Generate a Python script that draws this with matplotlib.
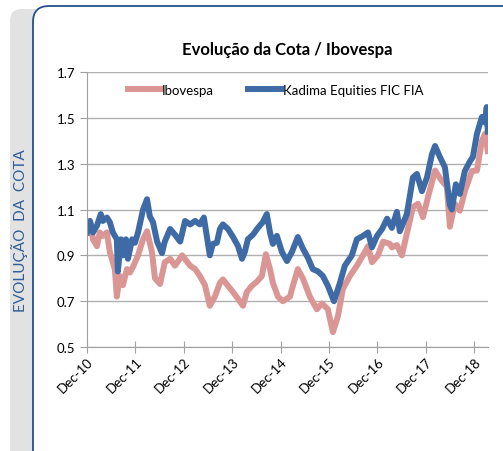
import matplotlib
matplotlib.use('Agg')
import matplotlib.pyplot as plt
import matplotlib.dates as mdates
from matplotlib.patches import FancyBboxPatch
import pandas as pd

plt.rcParams['font.family'] = ['Lato', 'DejaVu Sans']

# Kadima Equities FIC FIA (cota normalizada)
kadima_dates = ['2010-12-01', '2010-12-23', '2011-01-15', '2011-02-14', '2011-03-15',
                '2011-03-30', '2011-04-30', '2011-05-22', '2011-06-14', '2011-07-14',
                '2011-07-22', '2011-08-14', '2011-08-29', '2011-09-21', '2011-10-06',
                '2011-11-06', '2011-11-28', '2011-12-21', '2012-01-28', '2012-02-27',
                '2012-03-19', '2012-04-12', '2012-05-13', '2012-06-19', '2012-07-10',
                '2012-08-19', '2012-09-25', '2012-11-03', '2012-12-10', '2013-01-17',
                '2013-02-24', '2013-04-01', '2013-05-01', '2013-05-23', '2013-06-15',
                '2013-07-08', '2013-08-07', '2013-08-30', '2013-09-22', '2013-10-30',
                '2013-12-07', '2014-01-14', '2014-02-13', '2014-03-06', '2014-03-29',
                '2014-05-06', '2014-06-13', '2014-07-20', '2014-08-19', '2014-09-12',
                '2014-10-04', '2014-11-03', '2014-12-11', '2015-01-18', '2015-02-25',
                '2015-04-10', '2015-05-18', '2015-06-25', '2015-08-01', '2015-09-09',
                '2015-10-16', '2015-11-23', '2016-01-08', '2016-02-22', '2016-03-30',
                '2016-05-22', '2016-06-29', '2016-08-14', '2016-09-21', '2016-10-21',
                '2016-11-28', '2017-01-05', '2017-02-12', '2017-03-20', '2017-04-27',
                '2017-05-19', '2017-07-11', '2017-08-26', '2017-09-25', '2017-11-02',
                '2017-12-10', '2018-01-17', '2018-02-09', '2018-03-17', '2018-04-24',
                '2018-06-01', '2018-06-16', '2018-07-16', '2018-08-15', '2018-09-22',
                '2018-10-30', '2018-11-22', '2018-12-22', '2019-01-29', '2019-02-21',
                '2019-03-06', '2019-03-14']
kadima = [1.00, 1.05, 1.00, 1.03, 1.08, 1.05, 1.065, 1.045, 1.00, 0.97,
          0.83, 0.97, 0.90, 0.97, 0.885, 0.97, 0.955, 1.00, 1.10, 1.145,
          1.07, 1.045, 0.96, 0.91, 0.96, 1.015, 0.99, 0.96, 1.05, 1.035,
          1.05, 1.035, 1.065, 0.985, 0.90, 0.95, 0.955, 1.015, 1.035, 1.015,
          0.98, 0.94, 0.885, 0.915, 0.97, 0.99, 1.02, 1.045, 1.08, 1.00,
          0.95, 0.985, 0.915, 0.875, 0.915, 0.98, 0.93, 0.89, 0.84, 0.83,
          0.81, 0.767, 0.70, 0.78, 0.855, 0.90, 0.97, 0.985, 1.00, 0.935,
          0.985, 1.015, 1.06, 1.02, 1.09, 1.005, 1.08, 1.24, 1.255, 1.18,
          1.24, 1.342, 1.377, 1.33, 1.285, 1.12, 1.10, 1.21, 1.168, 1.268,
          1.31, 1.33, 1.43, 1.504, 1.48, 1.547, 1.44]

# Ibovespa (normalizado)
ibov_dates = ['2010-12-01', '2010-12-23', '2011-01-15', '2011-02-14', '2011-03-07',
              '2011-03-30', '2011-04-30', '2011-05-22', '2011-06-29', '2011-07-14',
              '2011-08-06', '2011-08-29', '2011-09-28', '2011-10-21', '2011-11-13',
              '2011-12-21', '2012-01-28', '2012-02-27', '2012-04-04', '2012-04-27',
              '2012-06-04', '2012-07-10', '2012-08-19', '2012-09-25', '2012-11-18',
              '2013-01-17', '2013-02-24', '2013-04-01', '2013-05-09', '2013-06-15',
              '2013-07-23', '2013-08-30', '2013-09-22', '2013-10-30', '2013-12-07',
              '2014-01-14', '2014-02-20', '2014-03-21', '2014-04-28', '2014-06-05',
              '2014-07-13', '2014-08-12', '2014-09-12', '2014-10-04', '2014-11-11',
              '2014-12-18', '2015-02-10', '2015-02-25', '2015-04-10', '2015-05-18',
              '2015-07-10', '2015-09-01', '2015-10-09', '2015-11-23', '2015-12-31',
              '2016-02-07', '2016-03-15', '2016-05-07', '2016-06-29', '2016-08-14',
              '2016-09-21', '2016-10-21', '2016-12-05', '2017-01-13', '2017-03-05',
              '2017-03-20', '2017-04-27', '2017-06-04', '2017-07-11', '2017-08-26',
              '2017-10-03', '2017-11-10', '2017-12-18', '2018-02-09', '2018-04-01',
              '2018-05-09', '2018-06-01', '2018-07-08', '2018-08-15', '2018-09-22',
              '2018-11-14', '2018-12-22', '2019-01-29', '2019-02-21', '2019-03-14']
ibov = [1.00, 1.05, 0.97, 0.94, 1.00, 0.985, 1.00, 0.915, 0.84, 0.72,
        0.81, 0.77, 0.84, 0.825, 0.85, 0.90, 0.97, 1.005, 0.915, 0.80,
        0.775, 0.87, 0.885, 0.855, 0.90, 0.855, 0.84, 0.81, 0.77, 0.68,
        0.72, 0.78, 0.795, 0.767, 0.74, 0.71, 0.68, 0.74, 0.767, 0.785,
        0.81, 0.905, 0.84, 0.78, 0.72, 0.70, 0.72, 0.753, 0.84, 0.80,
        0.72, 0.665, 0.69, 0.665, 0.565, 0.635, 0.753, 0.81, 0.855, 0.90,
        0.94, 0.87, 0.90, 0.96, 0.95, 0.935, 0.945, 0.90, 0.995, 1.11,
        1.125, 1.067, 1.155, 1.27, 1.225, 1.20, 1.025, 1.125, 1.095, 1.18,
        1.268, 1.27, 1.40, 1.43, 1.355]

tick_dates = ['2010-12-01', '2011-12-01', '2012-12-01', '2013-12-01', '2014-12-01',
              '2015-12-01', '2016-12-01', '2017-12-01', '2018-12-01']
y_ticks = [0.5, 0.7, 0.9, 1.1, 1.3, 1.5, 1.7]

fig = plt.figure(figsize=(5.03, 4.52), dpi=100)

# gray band + rounded panel (behind the axes)
band = FancyBboxPatch((0.10, -0.3), 0.6, 4.72, boxstyle='round,pad=0,rounding_size=0.12',
                      transform=fig.dpi_scale_trans, facecolor='#e2e2e2', edgecolor='none',
                      zorder=-2)
fig.patches.append(band)
panel = FancyBboxPatch((0.33, -0.3), 5.2, 4.75, boxstyle='round,pad=0,rounding_size=0.16',
                       transform=fig.dpi_scale_trans, facecolor='white', edgecolor='#24508a',
                       lw=1.3, zorder=-1)
fig.patches.append(panel)

fig.text(0.038, 0.49, 'EVOLUÇÃO  DA  COTA', rotation=90, color='#2f5f98',
         fontsize=11, ha='center', va='center')

ax = fig.add_axes([0.173, 0.230, 0.797, 0.6085])
ax.set_facecolor('none')

ax.plot(pd.to_datetime(ibov_dates), ibov, color='#da9694', lw=4.3, label='Ibovespa',
        solid_joinstyle='round')
ax.plot(pd.to_datetime(kadima_dates), kadima, color='#3e6ba6', lw=4.3,
        label='Kadima Equities FIC FIA', solid_joinstyle='round')

ax.set_ylim(0.5, 1.7)
ax.set_yticks(y_ticks)
ax.set_yticklabels([f'{v:.1f}' for v in y_ticks])
ax.set_xlim(pd.Timestamp('2010-12-01'), pd.Timestamp('2019-03-15'))
ax.set_xticks(pd.to_datetime(tick_dates))
ax.xaxis.set_major_formatter(mdates.DateFormatter('%b-%y'))
plt.setp(ax.get_xticklabels(), rotation=45, ha='right', rotation_mode='anchor')

ax.grid(axis='y', color='#b0b0b0', lw=1)
ax.set_axisbelow(True)
for s in ['top', 'right']:
    ax.spines[s].set_visible(False)
for s in ['left', 'bottom']:
    ax.spines[s].set_color('#a0a0a0')
ax.tick_params(axis='both', colors='#a0a0a0', labelcolor='black', labelsize=9.5, length=5)
ax.tick_params(axis='x', direction='inout', length=8, pad=2)

ax.set_title('Evolução da Cota / Ibovespa', fontsize=12, fontweight='bold', pad=13)

ax.legend(loc='upper center', bbox_to_anchor=(0.47, 1.0), ncol=2, frameon=False,
          fontsize=9.5, handlelength=2.5, handletextpad=0.1, columnspacing=2.6)

fig.savefig('out.png', dpi=100)
